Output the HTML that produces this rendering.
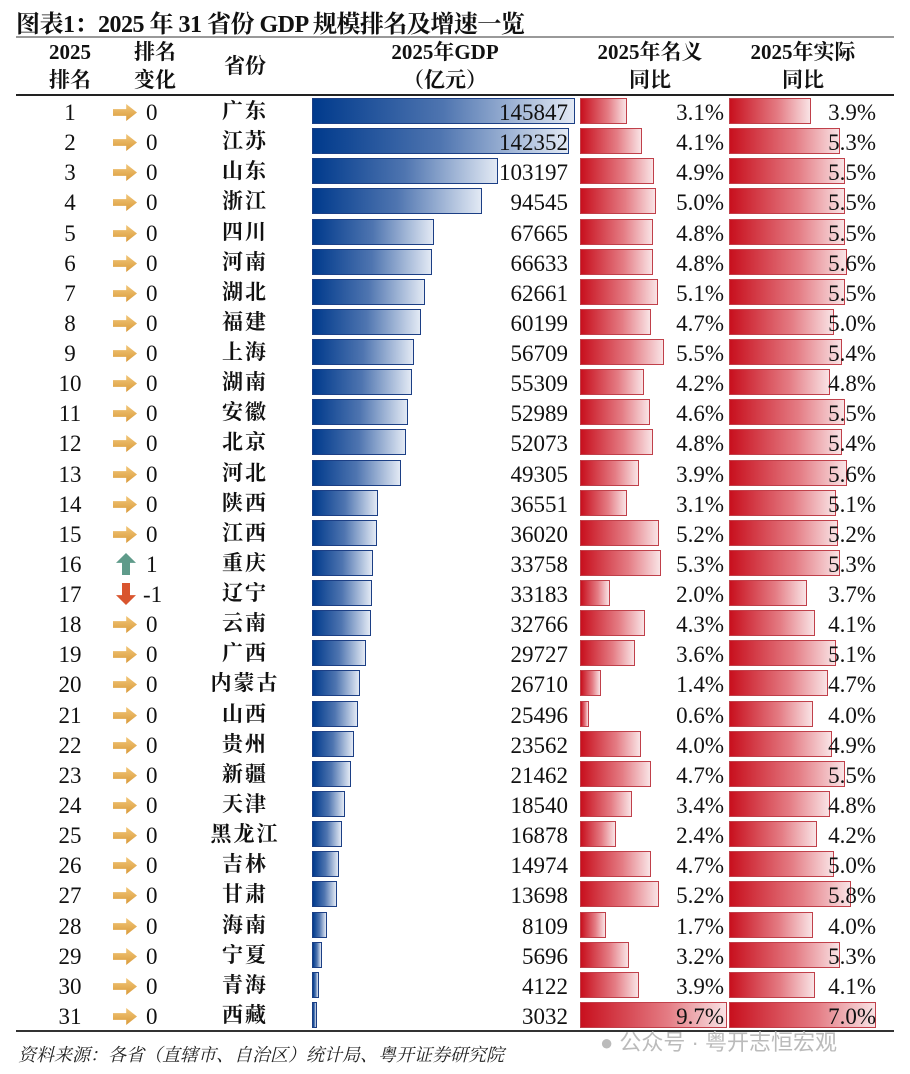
<!DOCTYPE html>
<html><head><meta charset="utf-8"><style>
body{margin:0;width:910px;height:1074px;background:#fff;position:relative;overflow:hidden;font-family:"Liberation Serif","Noto Serif CJK SC",serif;color:#111}
.title{position:absolute;left:16px;top:4px;font-size:24px;font-weight:bold;letter-spacing:-0.5px}
.rule1{position:absolute;left:16px;top:36px;width:878px;height:2px;background:#999}
.h{position:absolute;font-weight:bold;font-size:21px;text-align:center;line-height:28px}
.rule2{position:absolute;left:16px;top:94px;width:878px;height:2px;background:#222}
.rule3{position:absolute;left:16px;top:1030px;width:878px;height:2px;background:#333}
.src{position:absolute;left:18px;top:1041px;font-size:18px;font-style:italic;color:#222}
.wm{position:absolute;left:600px;top:1025px;font-size:22px;color:#bbb;font-family:"Liberation Sans","Noto Sans CJK SC",sans-serif}
.r{position:absolute;left:0;width:910px;height:27px}
.r i{position:absolute;font-style:normal;font-size:23px;line-height:27px;top:1px}
.n{left:40px;width:60px;text-align:center}
.c{left:146px}
.p{left:195px;width:100px;text-align:center;font-size:21px!important;font-weight:bold;font-family:"Noto Serif CJK SC",serif;top:-1px!important;letter-spacing:2px}
.gv{right:342px}
.t1{right:186px}
.t2{right:34px}
.a{position:absolute;left:113px;top:6px;width:24px;height:17px;background:linear-gradient(#f2c77a,#d99a3a);clip-path:polygon(0 30%,55% 30%,55% 0,100% 50%,55% 100%,55% 70%,0 70%)}
.up{position:absolute;left:116px;top:3px;width:20px;height:22px;background:#5f9b8a;clip-path:polygon(50% 0,100% 45%,70% 45%,70% 100%,30% 100%,30% 45%,0 45%)}
.dn{position:absolute;left:116px;top:3px;width:20px;height:22px;background:#d9552e;clip-path:polygon(30% 0,70% 0,70% 55%,100% 55%,50% 100%,0 55%,30% 55%)}
.g{position:absolute;left:312px;top:0;height:26px;border:1px solid #1c3f85;box-sizing:border-box;background:linear-gradient(90deg,#003a8c,#4f75b0 50%,#e2e9f4)}
.b1,.b2{position:absolute;top:0;height:26px;border:1px solid #c0404a;box-sizing:border-box;background:linear-gradient(90deg,#c8101e,#e47c84 60%,#f9e3e5)}
.b1{left:580px}.b2{left:729px}
</style></head><body>
<div class="title">图表1：2025 年 31 省份 GDP 规模排名及增速一览</div>
<div class="rule1"></div>
<div class="h" style="left:35px;width:70px;top:38px">2025<br>排名</div>
<div class="h" style="left:118px;width:74px;top:38px">排名<br>变化</div>
<div class="h" style="left:205px;width:80px;top:52px">省份</div>
<div class="h" style="left:320px;width:250px;top:38px">2025年GDP<br>（亿元）</div>
<div class="h" style="left:575px;width:150px;top:38px">2025年名义<br>同比</div>
<div class="h" style="left:728px;width:150px;top:38px">2025年实际<br>同比</div>
<div class="rule2"></div>

<div class="r" style="top:98px"><i class="n">1</i><s class="a"></s><i class="c">0</i><i class="p">广东</i><b class="g" style="width:263px"></b><i class="gv">145847</i><b class="b1" style="width:47px"></b><i class="t1">3.1%</i><b class="b2" style="width:82px"></b><i class="t2">3.9%</i></div>
<div class="r" style="top:128px"><i class="n">2</i><s class="a"></s><i class="c">0</i><i class="p">江苏</i><b class="g" style="width:257px"></b><i class="gv">142352</i><b class="b1" style="width:62px"></b><i class="t1">4.1%</i><b class="b2" style="width:111px"></b><i class="t2">5.3%</i></div>
<div class="r" style="top:158px"><i class="n">3</i><s class="a"></s><i class="c">0</i><i class="p">山东</i><b class="g" style="width:186px"></b><i class="gv">103197</i><b class="b1" style="width:74px"></b><i class="t1">4.9%</i><b class="b2" style="width:116px"></b><i class="t2">5.5%</i></div>
<div class="r" style="top:188px"><i class="n">4</i><s class="a"></s><i class="c">0</i><i class="p">浙江</i><b class="g" style="width:170px"></b><i class="gv">94545</i><b class="b1" style="width:76px"></b><i class="t1">5.0%</i><b class="b2" style="width:116px"></b><i class="t2">5.5%</i></div>
<div class="r" style="top:219px"><i class="n">5</i><s class="a"></s><i class="c">0</i><i class="p">四川</i><b class="g" style="width:122px"></b><i class="gv">67665</i><b class="b1" style="width:73px"></b><i class="t1">4.8%</i><b class="b2" style="width:116px"></b><i class="t2">5.5%</i></div>
<div class="r" style="top:249px"><i class="n">6</i><s class="a"></s><i class="c">0</i><i class="p">河南</i><b class="g" style="width:120px"></b><i class="gv">66633</i><b class="b1" style="width:73px"></b><i class="t1">4.8%</i><b class="b2" style="width:118px"></b><i class="t2">5.6%</i></div>
<div class="r" style="top:279px"><i class="n">7</i><s class="a"></s><i class="c">0</i><i class="p">湖北</i><b class="g" style="width:113px"></b><i class="gv">62661</i><b class="b1" style="width:78px"></b><i class="t1">5.1%</i><b class="b2" style="width:116px"></b><i class="t2">5.5%</i></div>
<div class="r" style="top:309px"><i class="n">8</i><s class="a"></s><i class="c">0</i><i class="p">福建</i><b class="g" style="width:109px"></b><i class="gv">60199</i><b class="b1" style="width:71px"></b><i class="t1">4.7%</i><b class="b2" style="width:105px"></b><i class="t2">5.0%</i></div>
<div class="r" style="top:339px"><i class="n">9</i><s class="a"></s><i class="c">0</i><i class="p">上海</i><b class="g" style="width:102px"></b><i class="gv">56709</i><b class="b1" style="width:84px"></b><i class="t1">5.5%</i><b class="b2" style="width:113px"></b><i class="t2">5.4%</i></div>
<div class="r" style="top:369px"><i class="n">10</i><s class="a"></s><i class="c">0</i><i class="p">湖南</i><b class="g" style="width:100px"></b><i class="gv">55309</i><b class="b1" style="width:64px"></b><i class="t1">4.2%</i><b class="b2" style="width:101px"></b><i class="t2">4.8%</i></div>
<div class="r" style="top:399px"><i class="n">11</i><s class="a"></s><i class="c">0</i><i class="p">安徽</i><b class="g" style="width:96px"></b><i class="gv">52989</i><b class="b1" style="width:70px"></b><i class="t1">4.6%</i><b class="b2" style="width:116px"></b><i class="t2">5.5%</i></div>
<div class="r" style="top:429px"><i class="n">12</i><s class="a"></s><i class="c">0</i><i class="p">北京</i><b class="g" style="width:94px"></b><i class="gv">52073</i><b class="b1" style="width:73px"></b><i class="t1">4.8%</i><b class="b2" style="width:113px"></b><i class="t2">5.4%</i></div>
<div class="r" style="top:460px"><i class="n">13</i><s class="a"></s><i class="c">0</i><i class="p">河北</i><b class="g" style="width:89px"></b><i class="gv">49305</i><b class="b1" style="width:59px"></b><i class="t1">3.9%</i><b class="b2" style="width:118px"></b><i class="t2">5.6%</i></div>
<div class="r" style="top:490px"><i class="n">14</i><s class="a"></s><i class="c">0</i><i class="p">陕西</i><b class="g" style="width:66px"></b><i class="gv">36551</i><b class="b1" style="width:47px"></b><i class="t1">3.1%</i><b class="b2" style="width:107px"></b><i class="t2">5.1%</i></div>
<div class="r" style="top:520px"><i class="n">15</i><s class="a"></s><i class="c">0</i><i class="p">江西</i><b class="g" style="width:65px"></b><i class="gv">36020</i><b class="b1" style="width:79px"></b><i class="t1">5.2%</i><b class="b2" style="width:109px"></b><i class="t2">5.2%</i></div>
<div class="r" style="top:550px"><i class="n">16</i><s class="up"></s><i class="c">1</i><i class="p">重庆</i><b class="g" style="width:61px"></b><i class="gv">33758</i><b class="b1" style="width:81px"></b><i class="t1">5.3%</i><b class="b2" style="width:111px"></b><i class="t2">5.3%</i></div>
<div class="r" style="top:580px"><i class="n">17</i><s class="dn"></s><i class="c" style="left:143px">-1</i><i class="p">辽宁</i><b class="g" style="width:60px"></b><i class="gv">33183</i><b class="b1" style="width:30px"></b><i class="t1">2.0%</i><b class="b2" style="width:78px"></b><i class="t2">3.7%</i></div>
<div class="r" style="top:610px"><i class="n">18</i><s class="a"></s><i class="c">0</i><i class="p">云南</i><b class="g" style="width:59px"></b><i class="gv">32766</i><b class="b1" style="width:65px"></b><i class="t1">4.3%</i><b class="b2" style="width:86px"></b><i class="t2">4.1%</i></div>
<div class="r" style="top:640px"><i class="n">19</i><s class="a"></s><i class="c">0</i><i class="p">广西</i><b class="g" style="width:54px"></b><i class="gv">29727</i><b class="b1" style="width:55px"></b><i class="t1">3.6%</i><b class="b2" style="width:107px"></b><i class="t2">5.1%</i></div>
<div class="r" style="top:670px"><i class="n">20</i><s class="a"></s><i class="c">0</i><i class="p">内蒙古</i><b class="g" style="width:48px"></b><i class="gv">26710</i><b class="b1" style="width:21px"></b><i class="t1">1.4%</i><b class="b2" style="width:99px"></b><i class="t2">4.7%</i></div>
<div class="r" style="top:701px"><i class="n">21</i><s class="a"></s><i class="c">0</i><i class="p">山西</i><b class="g" style="width:46px"></b><i class="gv">25496</i><b class="b1" style="width:9px"></b><i class="t1">0.6%</i><b class="b2" style="width:84px"></b><i class="t2">4.0%</i></div>
<div class="r" style="top:731px"><i class="n">22</i><s class="a"></s><i class="c">0</i><i class="p">贵州</i><b class="g" style="width:42px"></b><i class="gv">23562</i><b class="b1" style="width:61px"></b><i class="t1">4.0%</i><b class="b2" style="width:103px"></b><i class="t2">4.9%</i></div>
<div class="r" style="top:761px"><i class="n">23</i><s class="a"></s><i class="c">0</i><i class="p">新疆</i><b class="g" style="width:39px"></b><i class="gv">21462</i><b class="b1" style="width:71px"></b><i class="t1">4.7%</i><b class="b2" style="width:116px"></b><i class="t2">5.5%</i></div>
<div class="r" style="top:791px"><i class="n">24</i><s class="a"></s><i class="c">0</i><i class="p">天津</i><b class="g" style="width:33px"></b><i class="gv">18540</i><b class="b1" style="width:52px"></b><i class="t1">3.4%</i><b class="b2" style="width:101px"></b><i class="t2">4.8%</i></div>
<div class="r" style="top:821px"><i class="n">25</i><s class="a"></s><i class="c">0</i><i class="p">黑龙江</i><b class="g" style="width:30px"></b><i class="gv">16878</i><b class="b1" style="width:36px"></b><i class="t1">2.4%</i><b class="b2" style="width:88px"></b><i class="t2">4.2%</i></div>
<div class="r" style="top:851px"><i class="n">26</i><s class="a"></s><i class="c">0</i><i class="p">吉林</i><b class="g" style="width:27px"></b><i class="gv">14974</i><b class="b1" style="width:71px"></b><i class="t1">4.7%</i><b class="b2" style="width:105px"></b><i class="t2">5.0%</i></div>
<div class="r" style="top:881px"><i class="n">27</i><s class="a"></s><i class="c">0</i><i class="p">甘肃</i><b class="g" style="width:25px"></b><i class="gv">13698</i><b class="b1" style="width:79px"></b><i class="t1">5.2%</i><b class="b2" style="width:122px"></b><i class="t2">5.8%</i></div>
<div class="r" style="top:912px"><i class="n">28</i><s class="a"></s><i class="c">0</i><i class="p">海南</i><b class="g" style="width:15px"></b><i class="gv">8109</i><b class="b1" style="width:26px"></b><i class="t1">1.7%</i><b class="b2" style="width:84px"></b><i class="t2">4.0%</i></div>
<div class="r" style="top:942px"><i class="n">29</i><s class="a"></s><i class="c">0</i><i class="p">宁夏</i><b class="g" style="width:10px"></b><i class="gv">5696</i><b class="b1" style="width:49px"></b><i class="t1">3.2%</i><b class="b2" style="width:111px"></b><i class="t2">5.3%</i></div>
<div class="r" style="top:972px"><i class="n">30</i><s class="a"></s><i class="c">0</i><i class="p">青海</i><b class="g" style="width:7px"></b><i class="gv">4122</i><b class="b1" style="width:59px"></b><i class="t1">3.9%</i><b class="b2" style="width:86px"></b><i class="t2">4.1%</i></div>
<div class="r" style="top:1002px"><i class="n">31</i><s class="a"></s><i class="c">0</i><i class="p">西藏</i><b class="g" style="width:5px"></b><i class="gv">3032</i><b class="b1" style="width:147px"></b><i class="t1">9.7%</i><b class="b2" style="width:147px"></b><i class="t2">7.0%</i></div>

<div class="rule3"></div>
<div class="wm">● 公众号 · 粤开志恒宏观</div>
<div class="src">资料来源：各省（直辖市、自治区）统计局、粤开证券研究院</div>
</body></html>
